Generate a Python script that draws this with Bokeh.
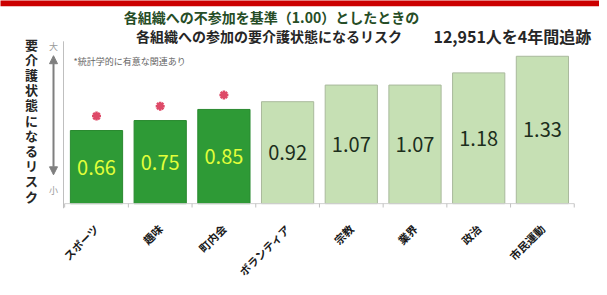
from math import pi
from bokeh.plotting import figure
from bokeh.models import Range1d, FixedTicker, Arrow, NormalHead, ColumnDataSource
from bokeh.core.properties import value
from bokeh.embed import file_html
from bokeh.resources import INLINE

# ---- data ----
categories = ["スポーツ", "趣味", "町内会", "ボランティア", "宗教", "業界", "政治", "市民運動"]
risk = [0.66, 0.75, 0.85, 0.92, 1.07, 1.07, 1.18, 1.33]
significant = [True, True, True, False, False, False, False, False]
title_line1 = "各組織への不参加を基準（1.00）としたときの"
title_line2 = "各組織への参加の要介護状態になるリスク"
cohort_note = "12,951人を4年間追跡"
y_label = "要介護状態になるリスク"
sig_note = "*統計学的に有意な関連あり"

FONT = "Noto Sans CJK JP"
DARK = "#2e9a36"
LIGHT = "#c6e0b4"

xs = list(range(len(categories)))
fills = [DARK if s else LIGHT for s in significant]
lines = ["#2a8a30" if s else "#a9b99c" for s in significant]
lab_colors = ["#e2ff3a" if s else "#1c2e1c" for s in significant]
labels = [f"{v:.2f}" for v in risk]
src = ColumnDataSource(dict(x=xs, top=risk, mid=[v / 2 for v in risk], fill=fills,
                            line=lines, lab=labels, labc=lab_colors))

p = figure(width=599, height=287, x_range=Range1d(-1.5071, 7.8964),
           y_range=Range1d(-0.0439, 1.8333), y_axis_location=None,
           output_backend="svg", toolbar_location=None,
           min_border_left=0, min_border_right=0, min_border_top=0, min_border_bottom=73)
p.outline_line_color = None
p.xgrid.visible = False
p.ygrid.visible = False
p.background_fill_color = "white"
p.border_fill_color = "white"

# red strip at top
p.quad(left=[-1.6], right=[8.0], bottom=[1.781], top=[1.9], fill_color="#cc0000", line_color=None)

# bars
p.vbar(x="x", top="top", bottom=0, width=0.82, fill_color="fill", line_color="line",
       line_width=1, source=src)
p.text(x="x", y="mid", text="lab", text_color="labc", text_align="center",
       text_baseline="middle", text_font=value(FONT), text_font_size="20px", source=src)

# significance markers
sx = [x for x, s in zip(xs, significant) if s]
sy = [v + 0.13 for v, s in zip(risk, significant) if s]
p.scatter(x=sx, y=sy, marker="asterisk", size=9, line_width=2.5, line_color="#de4a68")

# baseline and separators
p.segment(x0=[-0.5], y0=[0], x1=[len(categories) - 0.5], y1=[0], line_color="#d0d0d0")
seps = [k - 0.5 for k in range(len(categories) + 1)]
p.segment(x0=seps, y0=[0] * len(seps), x1=seps, y1=[-0.035] * len(seps), line_color="#c0c0c0")
# y axis line
p.segment(x0=[-0.518], y0=[1.465], x1=[-0.518], y1=[-0.044], line_color="#bfbfbf")

# arrow with 大 / 小
p.add_layout(Arrow(x_start=-0.675, y_start=0.26, x_end=-0.675, y_end=1.335,
                   line_color="#7f7f7f", line_width=2,
                   start=NormalHead(size=8, fill_color="#7f7f7f", line_color="#7f7f7f"),
                   end=NormalHead(size=8, fill_color="#7f7f7f", line_color="#7f7f7f")))
p.text(x=[-0.675, -0.675], y=[1.421, 0.123], text=["大", "小"], text_color="#9a9a9a",
       text_align="center", text_baseline="middle", text_font=value(FONT), text_font_size="9px")

# vertical y label
p.text(x=[-1.02], y=[0.754], text=["\n".join(y_label)], text_align="center",
       text_baseline="middle", text_font=value(FONT), text_font_size="13px",
       text_font_style="bold", text_line_height=0.8, text_color="#262626")

# note
p.text(x=[-0.361], y=[1.281], text=[sig_note], text_align="left", text_baseline="middle",
       text_font=value(FONT), text_font_size="9px", text_color="#666666")

# titles
p.text(x=[2.747], y=[1.684], text=[title_line1], text_align="center", text_baseline="middle",
       text_font=value(FONT), text_font_size="14px", text_font_style="bold", text_color="#264d26")
p.text(x=[2.708], y=[1.509], text=[title_line2], text_align="center", text_baseline="middle",
       text_font=value(FONT), text_font_size="14px", text_font_style="bold", text_color="#262626")
p.text(x=[5.290], y=[1.509], text=[cohort_note], text_align="left", text_baseline="middle",
       text_font=value(FONT), text_font_size="16px", text_font_style="bold", text_color="#262626")

# x axis
ax = p.xaxis[0]
ax.ticker = FixedTicker(ticks=xs)
ax.major_label_overrides = {i: c for i, c in zip(xs, categories)}
ax.major_label_orientation = pi / 4
ax.major_label_text_font = FONT
ax.major_label_text_font_size = "11px"
ax.major_label_text_font_style = "bold"
ax.major_label_text_color = "#1a1a1a"
ax.axis_line_color = None
ax.major_tick_line_color = None
ax.minor_tick_line_color = None
ax.major_label_standoff = 12

open("out.html", "w").write(file_html(p, INLINE))
